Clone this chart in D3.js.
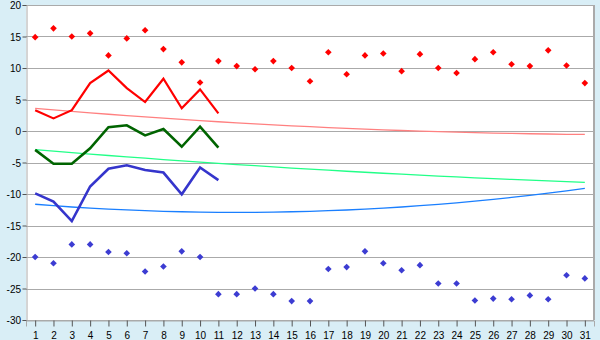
<!DOCTYPE html>
<html>
<head>
<meta charset="utf-8">
<script src="https://cdn.jsdelivr.net/npm/d3@7"></script>
<style>
  body { margin: 0; background: #d9eef6; }
  svg { display: block; font-family: "DejaVu Sans", sans-serif; }
</style>
</head>
<body>
<div id="chart"></div>
<script>
// days of the month
const days = d3.range(1, 32);
const yTicks = [-30, -25, -20, -15, -10, -5, 0, 5, 10, 15, 20];

// daily maximum (red diamonds)
const maxTemp = [14.9, 16.3, 15.0, 15.5, 12.0, 14.7, 16.0, 13.0, 10.9, 7.7, 11.1,
  10.3, 9.8, 11.1, 10.0, 7.9, 12.5, 9.0, 12.0, 12.3, 9.5,
  12.2, 10.0, 9.2, 11.4, 12.5, 10.6, 10.3, 12.8, 10.4, 7.6];

// daily minimum (blue diamonds)
const minTemp = [-20.0, -21.0, -18.0, -18.0, -19.2, -19.4, -22.3, -21.5, -19.1, -20.0, -25.9,
  -25.9, -25.0, -25.9, -27.0, -27.0, -21.9, -21.6, -19.1, -21.0, -22.1,
  -21.3, -24.2, -24.2, -26.9, -26.6, -26.7, -26.1, -26.7, -22.9, -23.4];

// measured series, first 11 days
const redLine = [3.3, 2.0, 3.3, 7.6, 9.6, 6.8, 4.6, 8.3, 3.6, 6.6, 2.8];
const greenLine = [-3.0, -5.2, -5.2, -2.75, 0.6, 0.9, -0.7, 0.3, -2.5, 0.7, -2.65];
const blueLine = [-9.9, -11.2, -14.3, -8.8, -6.0, -5.45, -6.2, -6.6, -10.05, -5.8, -7.8];

// trend curves, read per day
const redTrend = [3.60, 3.35, 3.11, 2.88, 2.66, 2.44, 2.23, 2.03, 1.83, 1.65, 1.47,
  1.29, 1.13, 0.97, 0.82, 0.68, 0.55, 0.42, 0.30, 0.19, 0.08,
  -0.02, -0.10, -0.19, -0.26, -0.33, -0.39, -0.44, -0.48, -0.52, -0.55];
const greenTrend = [-2.97, -3.21, -3.44, -3.67, -3.89, -4.11, -4.32, -4.53, -4.74, -4.94, -5.13,
  -5.33, -5.51, -5.70, -5.88, -6.05, -6.22, -6.39, -6.55, -6.71, -6.86,
  -7.01, -7.15, -7.29, -7.43, -7.56, -7.69, -7.81, -7.93, -8.04, -8.15];
const blueTrend = [-11.63, -11.85, -12.06, -12.24, -12.40, -12.53, -12.65, -12.75, -12.82, -12.88, -12.91,
  -12.92, -12.91, -12.88, -12.82, -12.75, -12.65, -12.54, -12.40, -12.24, -12.06,
  -11.86, -11.64, -11.40, -11.14, -10.85, -10.54, -10.22, -9.87, -9.50, -9.11];

const width = 600, height = 340;
const marginTop = 5, marginRight = 6, marginBottom = 20, marginLeft = 26;

const svg = d3.select("#chart")
  .append("svg")
  .attr("width", width)
  .attr("height", height);

svg.append("rect")
  .attr("width", width)
  .attr("height", height)
  .attr("fill", "#d9eef6");

const x = d3.scaleLinear()
  .domain([0.5, 31.5])
  .range([marginLeft, width - marginRight]);

const y = d3.scaleLinear()
  .domain([-30, 20])
  .range([height - marginBottom, marginTop]);

// plot area
svg.append("rect")
  .attr("x", x(0.5))
  .attr("y", y(20))
  .attr("width", x(31.5) - x(0.5))
  .attr("height", y(-30) - y(20))
  .attr("fill", "#ffffff");

// horizontal grid
svg.append("g")
  .attr("shape-rendering", "crispEdges")
  .selectAll("line")
  .data(yTicks)
  .join("line")
  .attr("x1", x(0.5))
  .attr("x2", x(31.5))
  .attr("y1", d => Math.round(y(d)) + 0.5)
  .attr("y2", d => Math.round(y(d)) + 0.5)
  .attr("stroke", "#aaaaaa");

// right border
svg.append("line")
  .attr("x1", x(31.5)).attr("x2", x(31.5))
  .attr("y1", y(20)).attr("y2", y(-30))
  .attr("stroke", "#aaaaaa")
  .attr("stroke-width", 2);

// Y axis
const yAxis = svg.append("g")
  .attr("transform", `translate(${Math.round(x(0.5)) + 0.5},0)`)
  .call(d3.axisLeft(y).tickValues(yTicks).tickSize(4).tickPadding(1.5).tickFormat(d3.format("d")));
yAxis.select(".domain").attr("stroke", "#aaaaaa");
yAxis.selectAll(".tick line").attr("stroke", "#555555");
yAxis.selectAll(".tick text")
  .attr("font-size", 10)
  .attr("fill", "#000")
  .attr("dy", "0.38em")
  .text(d => String(d).replace("\u2212", "-"));

// X axis
const xAxis = svg.append("g")
  .attr("transform", `translate(0,${Math.round(y(-30)) + 0.5})`)
  .call(d3.axisBottom(x).tickValues(days).tickSize(6).tickPadding(5).tickFormat(d3.format("d")));
xAxis.select(".domain").attr("stroke", "#aaaaaa");
xAxis.selectAll(".tick line").attr("stroke", "#555555");
xAxis.selectAll(".tick text")
  .attr("font-size", 10)
  .attr("fill", "#000");

// trend curves
const trends = [
  { values: redTrend, color: "#ff8080" },
  { values: greenTrend, color: "#22ff88" },
  { values: blueTrend, color: "#1a7fff" }
];
const line = d3.line()
  .x((d, i) => x(days[i]))
  .y(d => y(d));

svg.append("g")
  .selectAll("path")
  .data(trends)
  .join("path")
  .attr("fill", "none")
  .attr("stroke", d => d.color)
  .attr("stroke-width", 1.3)
  .attr("d", d => line(d.values));

// measured lines
const series = [
  { values: redLine, color: "#ff0000", w: 2.2 },
  { values: greenLine, color: "#006400", w: 2.6 },
  { values: blueLine, color: "#3535cc", w: 2.6 }
];
svg.append("g")
  .selectAll("path")
  .data(series)
  .join("path")
  .attr("fill", "none")
  .attr("stroke", d => d.color)
  .attr("stroke-width", d => d.w)
  .attr("stroke-linejoin", "miter")
  .attr("d", d => line(d.values));

// diamonds
const diamond = d3.symbol(d3.symbolSquare, 22)();
function drawMarkers(values, color) {
  svg.append("g")
    .selectAll("path")
    .data(values)
    .join("path")
    .attr("d", diamond)
    .attr("fill", color)
    .attr("transform", (d, i) => `translate(${x(days[i])},${y(d)}) rotate(45)`);
}
drawMarkers(maxTemp, "#ff0000");
drawMarkers(minTemp, "#3c3cd2");
</script>
</body>
</html>
